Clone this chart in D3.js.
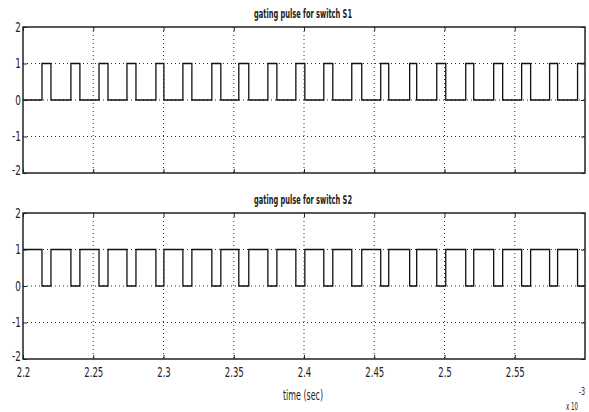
<!DOCTYPE html>
<html>
<head>
<meta charset="utf-8">
<script src="https://cdn.jsdelivr.net/npm/d3@7"></script>
<style>
  body { margin: 0; background: #fff; }
  text { font-family: "Liberation Sans Narrow", "DejaVu Sans Condensed", "Liberation Sans", sans-serif; fill: #222; }
</style>
</head>
<body>
<div id="chart"></div>
<script>
// time axis in units of 1e-3 s
const xTicks = [2.2, 2.25, 2.3, 2.35, 2.4, 2.45, 2.5, 2.55];
const yTicks = [-2, -1, 0, 1, 2];
const titles = ['gating pulse for switch S1', 'gating pulse for switch S2'];

// S1: starts low, goes high at each rise, low at each fall
const s1Rise = [2.2135, 2.2341, 2.2541, 2.2740, 2.2946, 2.3138, 2.3344, 2.3536, 2.3743, 2.3942,
  2.4141, 2.4340, 2.4546, 2.4752, 2.4945, 2.5151, 2.5350, 2.5549, 2.5748, 2.5947];
const s1Fall = [2.2199, 2.2405, 2.2605, 2.2804, 2.3003, 2.3202, 2.3408, 2.3607, 2.3807, 2.4006,
  2.4205, 2.4411, 2.4603, 2.4802, 2.5009, 2.5208, 2.5414, 2.5613, 2.5805];

// S2: starts high, goes low at each fall, high at each rise
const s2Fall = [2.2135, 2.2341, 2.2541, 2.2740, 2.2946, 2.3138, 2.3344, 2.3536, 2.3743, 2.3942,
  2.4141, 2.4340, 2.4546, 2.4752, 2.4945, 2.5151, 2.5350, 2.5549, 2.5748, 2.5947];
const s2Rise = [2.2199, 2.2405, 2.2605, 2.2804, 2.3003, 2.3202, 2.3408, 2.3607, 2.3807, 2.4006,
  2.4205, 2.4411, 2.4603, 2.4802, 2.5009, 2.5208, 2.5414, 2.5613, 2.5805];

const width = 589, height = 412;
const left = 23, right = 585;
const panels = [{ top: 27, bottom: 173 }, { top: 213, bottom: 359 }];

// turn edge lists into step points
const buildSteps = (start, ups, downs) => {
  const pts = [{ t: 2.2, v: start }];
  ups.forEach((t) => pts.push({ t, v: 1 }));
  downs.forEach((t) => pts.push({ t, v: 0 }));
  pts.sort((a, b) => a.t - b.t);
  pts.push({ t: 2.6, v: pts[pts.length - 1].v });
  return pts;
};
const series = [buildSteps(0, s1Rise, s1Fall), buildSteps(1, s2Rise, s2Fall)];

const svg = d3.select('#chart')
  .append('svg')
  .attr('width', width)
  .attr('height', height);

const x = d3.scaleLinear().domain([2.2, 2.6]).range([left, right]);

panels.forEach((p, i) => {
  const y = d3.scaleLinear().domain([-2, 2]).range([p.bottom, p.top]);
  const g = svg.append('g');

  // dotted grid
  g.selectAll('.vgrid')
    .data(xTicks.slice(1))
    .enter()
    .append('line')
    .attr('x1', (d) => x(d)).attr('x2', (d) => x(d))
    .attr('y1', p.top).attr('y2', p.bottom)
    .attr('stroke', '#333')
    .attr('stroke-width', 1)
    .attr('stroke-dasharray', '1,3');
  g.selectAll('.hgrid')
    .data([-1, 0, 1])
    .enter()
    .append('line')
    .attr('x1', left).attr('x2', right)
    .attr('y1', (d) => y(d)).attr('y2', (d) => y(d))
    .attr('stroke', '#333')
    .attr('stroke-width', 1)
    .attr('stroke-dasharray', '1,3');

  // pulse trace
  const line = d3.line()
    .x((d) => x(d.t))
    .y((d) => y(d.v))
    .curve(d3.curveStepAfter);
  g.append('path')
    .datum(series[i])
    .attr('d', line)
    .attr('fill', 'none')
    .attr('stroke', '#111')
    .attr('stroke-width', 1.3);

  // axes with inward ticks
  const yAxis = g.append('g')
    .attr('transform', `translate(${left},0)`)
    .call(d3.axisLeft(y).tickValues(yTicks).tickFormat((d) => String(d)).tickSize(-4).tickPadding(3));
  yAxis.selectAll('text')
    .attr('font-size', 14)
    .attr('transform', 'scale(0.7,1)');
  // the bottom "-2" sits a bit higher so it clears the x labels
  yAxis.selectAll('.tick')
    .filter((d) => d === -2)
    .select('text')
    .attr('dy', '0.1em');

  g.append('g')
    .attr('transform', `translate(${right},0)`)
    .call(d3.axisRight(y).tickValues(yTicks).tickSize(-4).tickFormat(''));

  g.append('g')
    .attr('transform', `translate(0,${p.top})`)
    .call(d3.axisTop(x).tickValues(xTicks).tickSize(-4).tickFormat(''));

  const xAxis = g.append('g')
    .attr('transform', `translate(0,${p.bottom})`)
    .call(d3.axisBottom(x).tickValues(xTicks).tickSize(-4).tickPadding(8)
      .tickFormat(i === 1 ? (d) => String(d) : ''));
  xAxis.selectAll('text')
    .attr('font-size', 14)
    .attr('transform', 'scale(0.68,1)');

  g.selectAll('.domain').attr('stroke', 'none');
  g.selectAll('.tick line').attr('stroke', '#222');

  // frame
  g.append('rect')
    .attr('x', left).attr('y', p.top)
    .attr('width', right - left).attr('height', p.bottom - p.top)
    .attr('fill', 'none')
    .attr('stroke', '#222')
    .attr('stroke-width', 1.5);

  g.append('text')
    .attr('x', 303)
    .attr('y', p.top - 9)
    .attr('text-anchor', 'middle')
    .attr('font-size', 12)
    .attr('font-weight', 'bold')
    .attr('textLength', 98)
    .attr('lengthAdjust', 'spacingAndGlyphs')
    .text(titles[i]);
});

svg.append('text')
  .attr('x', 303).attr('y', 400)
  .attr('text-anchor', 'middle')
  .attr('font-size', 14)
  .attr('textLength', 40)
  .attr('lengthAdjust', 'spacingAndGlyphs')
  .text('time (sec)');

svg.append('text')
  .attr('x', 566).attr('y', 410)
  .attr('font-size', 11)
  .attr('textLength', 12)
  .attr('lengthAdjust', 'spacingAndGlyphs')
  .text('x 10');

svg.append('text')
  .attr('x', 579).attr('y', 395)
  .attr('font-size', 11)
  .attr('textLength', 6)
  .attr('lengthAdjust', 'spacingAndGlyphs')
  .text('-3');
</script>
</body>
</html>
